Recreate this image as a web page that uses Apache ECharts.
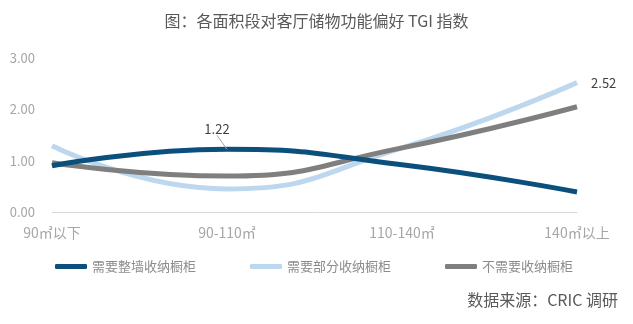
<!DOCTYPE html>
<html>
<head>
<meta charset="utf-8">
<style>
  html, body { margin: 0; padding: 0; background: #fff; }
  #chart { width: 633px; height: 324px; }
</style>
<script src="https://cdn.jsdelivr.net/npm/echarts@6/dist/echarts.min.js"></script>
</head>
<body>
<div id="chart"></div>
<script>
// Floor-area bands
const categories = ['90㎡以下', '90-110㎡', '110-140㎡', '140㎡以上'];
// TGI index per storage preference
const wholeWall = [0.90, 1.22, 0.92, 0.39];   // 需要整墙收纳橱柜
const partial = [1.29, 0.45, 1.25, 2.52];     // 需要部分收纳橱柜
const noCabinet = [0.96, 0.70, 1.25, 2.05];   // 不需要收纳橱柜
const seriesNames = ['需要整墙收纳橱柜', '需要部分收纳橱柜', '不需要收纳橱柜'];
const yTicks = [0, 1, 2, 3];

const FONT = '"Noto Sans CJK SC", "Noto Sans", sans-serif';
const chart = echarts.init(document.getElementById('chart'));

// Turn a value list into data items, giving one point a value label
function withLabel(values, idx, label, labelLine) {
  return values.map(function (v, i) {
    if (i !== idx) return v;
    const item = { value: v, label: Object.assign({ show: true }, label) };
    if (labelLine) item.labelLine = labelLine;
    return item;
  });
}

const labelText = { fontFamily: FONT, fontSize: 13, color: '#404040',
  formatter: function (p) { return p.value.toFixed(2); } };

chart.setOption({
  backgroundColor: '#ffffff',
  animation: false,
  title: {
    text: '图：各面积段对客厅储物功能偏好 TGI 指数',
    left: 'center',
    top: 8,
    textStyle: { fontFamily: FONT, fontSize: 16, fontWeight: 'normal', color: '#595959' }
  },
  grid: { left: 52, right: 56, top: 58, bottom: 112 },
  legend: {
    left: 50,
    top: 255,
    itemWidth: 32,
    itemHeight: 5,
    itemGap: 54,
    icon: 'roundRect',
    textStyle: { fontFamily: FONT, fontSize: 13, color: '#8c8c8c' },
    data: seriesNames
  },
  xAxis: {
    type: 'category',
    data: categories,
    boundaryGap: false,
    axisLine: { lineStyle: { color: '#d9d9d9', width: 1 } },
    axisTick: { show: false },
    axisLabel: { fontFamily: FONT, fontSize: 14, color: '#a6a6a6', margin: 14 }
  },
  yAxis: {
    type: 'value',
    min: yTicks[0],
    max: yTicks[yTicks.length - 1],
    interval: 1,
    splitLine: { show: false },
    axisLine: { show: false },
    axisTick: { show: false },
    axisLabel: {
      fontFamily: FONT, fontSize: 13, color: '#a6a6a6', margin: 17,
      formatter: function (v) { return v.toFixed(2); }
    }
  },
  series: [
    {
      name: seriesNames[0], type: 'line', smooth: 0.5,
      data: withLabel(wholeWall, 1,
        Object.assign({ position: 'top', distance: 4 }, labelText),
        { show: true, lineStyle: { color: '#a6a6a6', width: 1 } }),
      symbol: 'circle', symbolSize: 0.1, showSymbol: true, z: 3,
      lineStyle: { width: 5, color: '#0b4f7d' }, itemStyle: { color: '#0b4f7d' },
      label: { show: false },
      labelLayout: function (p) { return p.dataIndex === 1 ? { dx: -10, dy: -10 } : {}; }
    },
    {
      name: seriesNames[1], type: 'line', smooth: 0.5,
      data: withLabel(partial, 3,
        Object.assign({ position: 'right', distance: 14 }, labelText), null),
      symbol: 'circle', symbolSize: 0.1, showSymbol: true, z: 2,
      lineStyle: { width: 5, color: '#bdd7ee' }, itemStyle: { color: '#bdd7ee' },
      label: { show: false }
    },
    {
      name: seriesNames[2], type: 'line', data: noCabinet, smooth: 0.5,
      symbol: 'none', z: 2,
      lineStyle: { width: 5, color: '#7f7f7f' }, itemStyle: { color: '#7f7f7f' }
    }
  ],
  graphic: [{
    type: 'text',
    right: 15,
    top: 292,
    style: { text: '数据来源：CRIC 调研', fontFamily: FONT, fontSize: 16, fill: '#595959' }
  }]
});
</script>
</body>
</html>
